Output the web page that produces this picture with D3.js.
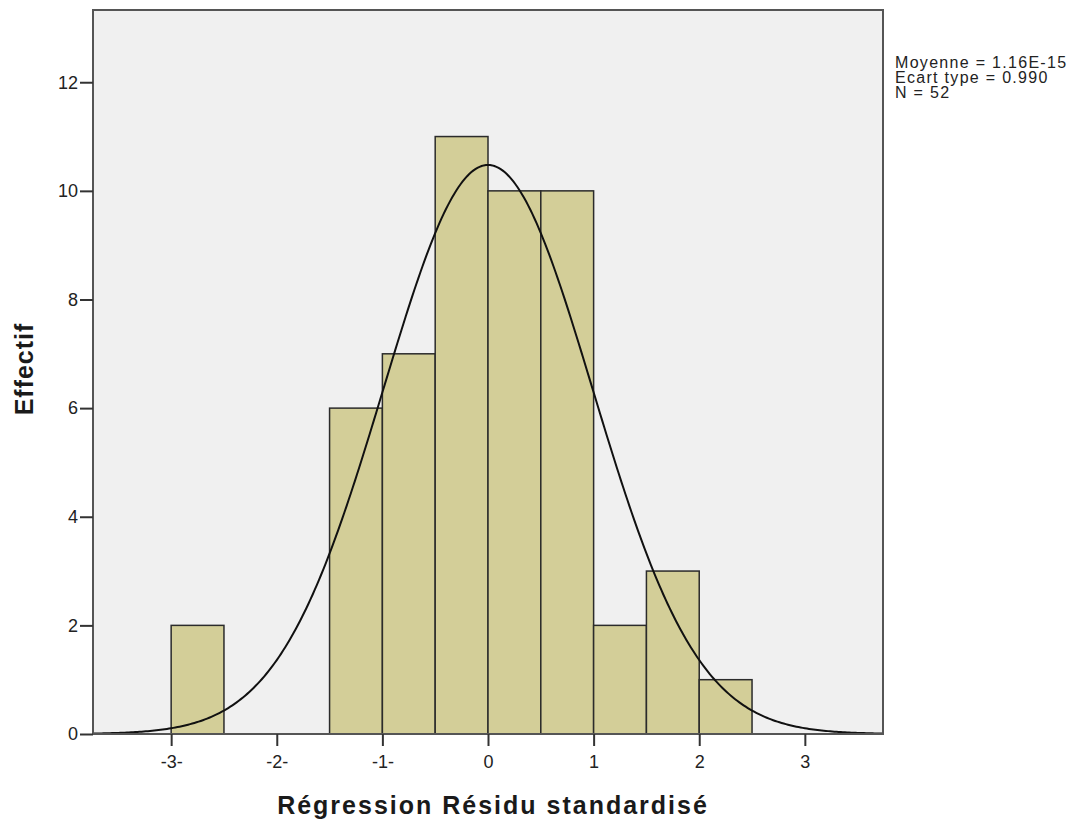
<!DOCTYPE html>
<html>
<head>
<meta charset="utf-8">
<script src="https://cdn.jsdelivr.net/npm/d3@7"></script>
<style>
  body { margin: 0; background: #fff; }
  text { font-family: "Liberation Sans", Arial, sans-serif; }
</style>
</head>
<body>
<div id="chart"></div>
<script>
// histogram bins (lower edge, upper edge, count)
const binStart = [-3, -1.5, -1, -0.5, 0, 0.5, 1, 1.5, 2];
const binEnd = [-2.5, -1, -0.5, 0, 0.5, 1, 1.5, 2, 2.5];
const counts = [2, 6, 7, 11, 10, 10, 2, 3, 1];

const xTicks = [-3, -2, -1, 0, 1, 2, 3];
const xTickLabels = ["-3-", "-2-", "-1-", "0", "1", "2", "3"];
const yTicks = [0, 2, 4, 6, 8, 10, 12];

// stats shown next to the plot
const statsLines = ["Moyenne = 1.16E-15", "Ecart type = 0.990", "N = 52"];
const mean = 0, sd = 0.990, n = 52, binWidth = 0.5;

const W = 1090, H = 820;
const margin = {top: 10, right: 207, bottom: 86, left: 93};

const svg = d3.select("#chart").append("svg")
    .attr("width", W)
    .attr("height", H);

const x = d3.scaleLinear().domain([-3.74, 3.74]).range([margin.left, W - margin.right]);
const y = d3.scaleLinear().domain([0, 13.33]).range([H - margin.bottom, margin.top]);

// plot background
svg.append("rect")
    .attr("x", margin.left).attr("y", margin.top)
    .attr("width", W - margin.right - margin.left)
    .attr("height", H - margin.bottom - margin.top)
    .attr("fill", "#f0f0f0");

// bars
const bins = counts.map((c, i) => ({x0: binStart[i], x1: binEnd[i], c: c}));
svg.append("g")
    .selectAll("rect")
    .data(bins)
    .join("rect")
    .attr("x", d => x(d.x0))
    .attr("y", d => y(d.c))
    .attr("width", d => x(d.x1) - x(d.x0))
    .attr("height", d => y(0) - y(d.c))
    .attr("fill", "#d3ce98")
    .attr("stroke", "#2b2b2b")
    .attr("stroke-width", 1.5);

// normal curve from the displayed mean / sd / N
const curvePts = d3.range(-3.74, 3.75, 0.02).map(v => [v,
    n * binWidth / (sd * Math.sqrt(2 * Math.PI)) * Math.exp(-0.5 * ((v - mean) / sd) ** 2)]);
svg.append("path")
    .datum(curvePts)
    .attr("fill", "none")
    .attr("stroke", "#111")
    .attr("stroke-width", 2)
    .attr("d", d3.line().x(d => x(d[0])).y(d => y(d[1])));

// frame
svg.append("rect")
    .attr("x", margin.left).attr("y", margin.top)
    .attr("width", W - margin.right - margin.left)
    .attr("height", H - margin.bottom - margin.top)
    .attr("fill", "none")
    .attr("stroke", "#555")
    .attr("stroke-width", 2);

// y axis
const yAxis = svg.append("g")
    .attr("transform", `translate(${margin.left},0)`)
    .call(d3.axisLeft(y).tickValues(yTicks).tickSize(13).tickPadding(2).tickFormat(d3.format("d")));
yAxis.select(".domain").remove();
yAxis.selectAll("line").attr("stroke", "#333").attr("stroke-width", 2);
yAxis.selectAll("text").attr("font-size", 18).attr("fill", "#222")
    .style("font-family", "Liberation Sans, Arial, sans-serif");

// x axis
const xAxis = svg.append("g")
    .attr("transform", `translate(0,${H - margin.bottom})`)
    .call(d3.axisBottom(x).tickValues(xTicks).tickSize(12).tickPadding(9)
        .tickFormat((d, i) => xTickLabels[i]));
xAxis.select(".domain").remove();
xAxis.selectAll("line").attr("stroke", "#333").attr("stroke-width", 2);
xAxis.selectAll("text").attr("font-size", 18).attr("fill", "#222")
    .style("font-family", "Liberation Sans, Arial, sans-serif");

// axis titles
svg.append("text")
    .attr("x", 493)
    .attr("y", 814)
    .attr("text-anchor", "middle")
    .attr("font-size", 25)
    .attr("font-weight", "bold")
    .attr("letter-spacing", 2)
    .attr("fill", "#1a1a1a")
    .text("Régression Résidu standardisé");

svg.append("text")
    .attr("transform", `translate(33,369) rotate(-90)`)
    .attr("text-anchor", "middle")
    .attr("font-size", 25)
    .attr("font-weight", "bold")
    .attr("letter-spacing", 1)
    .attr("fill", "#1a1a1a")
    .text("Effectif");

// stats block
svg.append("g")
    .selectAll("text")
    .data(statsLines)
    .join("text")
    .attr("x", 895)
    .attr("y", (d, i) => 68 + i * 15)
    .attr("font-size", 16)
    .attr("letter-spacing", 1.3)
    .attr("fill", "#222")
    .text(d => d);
</script>
</body>
</html>
